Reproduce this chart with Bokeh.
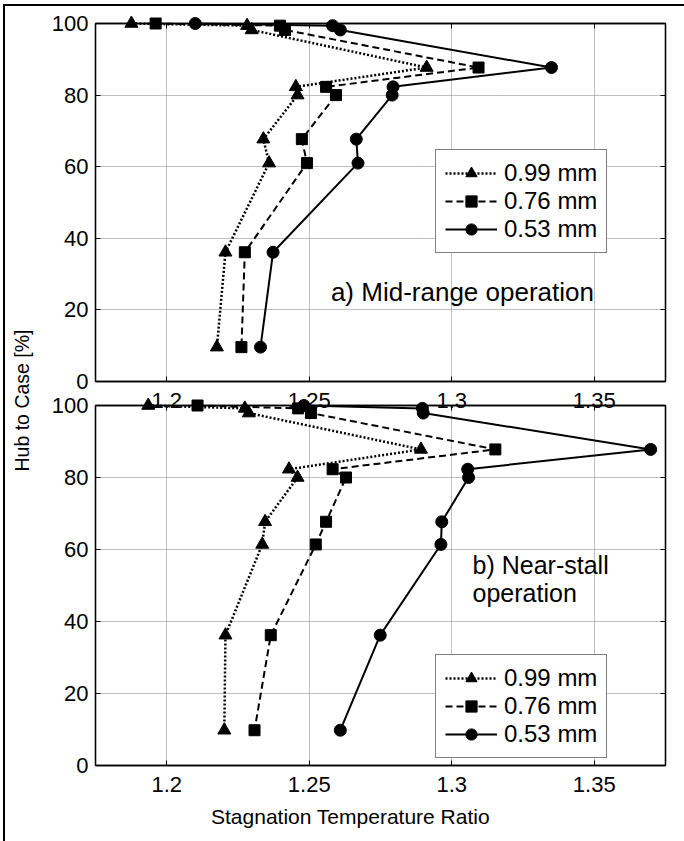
from bokeh.plotting import figure
from bokeh.layouts import column
from bokeh.models import (FixedTicker, LinearAxis, Range1d, Legend, LegendItem, Label,
                          CustomJSTickFormatter)
from bokeh.embed import file_html
from bokeh.resources import INLINE

FONT = "Liberation Sans"

# ---------------- data ----------------
series_names = ["0.99 mm", "0.76 mm", "0.53 mm"]

# a) Mid-range operation
y_mid = [100, 99.4, 98.2, 87.7, 82.3, 80.0, 67.7, 61.0, 36.1, 9.6]
x_mid_099 = [1.1876, 1.2282, 1.2298, 1.2912, 1.2453, 1.2459, 1.2339, 1.2359, 1.2206, 1.2176]
x_mid_076 = [1.1961, 1.2397, 1.2415, 1.3094, 1.2559, 1.2594, 1.2474, 1.2492, 1.2274, 1.2262]
x_mid_053 = [1.2100, 1.2582, 1.2609, 1.3350, 1.2794, 1.2791, 1.2665, 1.2671, 1.2373, 1.2329]

# b) Near-stall operation
y_stall = [100, 99.2, 97.9, 87.8, 82.3, 80.0, 67.7, 61.4, 36.2, 9.8]
x_stall_099 = [1.1935, 1.2274, 1.2288, 1.2892, 1.2429, 1.2459, 1.2345, 1.2335, 1.2206, 1.2202]
x_stall_076 = [1.2108, 1.2461, 1.2506, 1.3153, 1.2582, 1.2629, 1.2559, 1.2523, 1.2365, 1.2308]
x_stall_053 = [1.2481, 1.2897, 1.2900, 1.3698, 1.3056, 1.3059, 1.2965, 1.2962, 1.2749, 1.2609]

x_ticks = [1.2, 1.25, 1.3, 1.35]
y_ticks = [0, 20, 40, 60, 80, 100]
x_limits = (1.175, 1.375)
y_limits = (0, 100)

x_title = "Stagnation Temperature Ratio"
y_title = "Hub to Case [%]"
label_a = "a) Mid-range operation"
label_b = "b)  Near-stall\noperation"

# ---------------- styling / layout ----------------
W = 679
PAD = 10  # extra px around the data frame so markers on the edge are not clipped
styles = [
    dict(marker="triangle", size=13, line_dash="2 2", line_width=2.5),
    dict(marker="square", size=11, line_dash="7 4", line_width=2),
    dict(marker="circle", size=12, line_dash="solid", line_width=2),
]
fmt = CustomJSTickFormatter(code="return String(tick)")


def hidden_axis(ticks):
    return LinearAxis(ticker=FixedTicker(ticks=ticks),
                      formatter=CustomJSTickFormatter(code="return ''"),
                      major_label_text_font_size="1px",
                      major_tick_in=5, major_tick_out=0, minor_tick_line_color=None,
                      axis_line_color="black", axis_line_width=1.3,
                      major_tick_line_color="black", major_label_standoff=0)


def bare_figure(width, height, y_range, min_top, min_bottom, min_right=19, **kw):
    p = figure(width=width, height=height, x_range=Range1d(*x_limits), y_range=y_range,
               output_backend="svg", toolbar_location=None, x_axis_location=None,
               y_axis_location=None, min_border_left=90, min_border_right=min_right,
               min_border_top=min_top, min_border_bottom=min_bottom, **kw)
    p.background_fill_color = None
    p.border_fill_color = None
    p.outline_line_color = None
    p.xgrid.visible = False
    p.ygrid.visible = False
    return p


def axes_panel(height, min_top, min_bottom, opaque, **kw):
    p = bare_figure(W, height, Range1d(*y_limits), min_top, min_bottom, **kw)
    if opaque:
        p.background_fill_color = "white"
        p.border_fill_color = "white"
    p.outline_line_color = "black"
    p.outline_line_width = 1.3
    yax = LinearAxis(ticker=FixedTicker(ticks=y_ticks), major_tick_in=5, major_tick_out=0,
                     minor_tick_line_color=None, axis_line_color="black", axis_line_width=1.3,
                     major_label_text_font=FONT, major_label_text_font_size="22px",
                     major_label_text_color="black", major_label_standoff=7)
    p.add_layout(yax, "left")
    p.add_layout(hidden_axis(y_ticks), "right")
    p.add_layout(hidden_axis(x_ticks), "above")
    xax = LinearAxis(ticker=FixedTicker(ticks=x_ticks), formatter=fmt, major_tick_in=5,
                     major_tick_out=0, minor_tick_line_color=None, axis_line_color="black",
                     axis_line_width=1.3, major_label_text_font=FONT,
                     major_label_text_font_size="22px", major_label_text_color="black",
                     major_label_standoff=11)
    p.add_layout(xax, "below")
    p.xgrid.visible = True
    p.ygrid.visible = True
    p.xgrid.ticker = FixedTicker(ticks=x_ticks)
    p.ygrid.ticker = FixedTicker(ticks=y_ticks)
    for g in (p.xgrid, p.ygrid):
        g.grid_line_color = "#808080"
        g.grid_line_dash = "1 1"
        g.grid_line_width = 1
    return p


def data_panel(frame_h, y, xs, legend_bottom, **kw):
    pad = PAD * (y_limits[1] - y_limits[0]) / frame_h
    yr = Range1d(y_limits[0] - pad, y_limits[1] + pad)
    p = bare_figure(W, frame_h + 2 * PAD, yr, 0, 0, **kw)
    items = []
    for name, x, st in zip(series_names, xs, styles):
        ln = p.line(x, y, line_color="black", line_width=st["line_width"], line_dash=st["line_dash"])
        sc = p.scatter(x, y, marker=st["marker"], size=st["size"], fill_color="black",
                       line_color="black")
        items.append(LegendItem(label=name, renderers=[ln, sc]))
    leg = Legend(items=items, location=(340, legend_bottom + PAD), margin=0, padding=9, spacing=0,
                 glyph_width=52, glyph_height=28, label_height=28, label_standoff=7,
                 label_text_font=FONT, label_text_font_size="24px", label_text_color="black",
                 border_line_color="black", border_line_width=1.3, background_fill_color="white",
                 background_fill_alpha=1.0)
    p.add_layout(leg, "center")
    return p


# page layout (content origin at page y=6):
# top axes canvas 6..476 (frame 23..381), top data canvas 13..391
p_top_axes = axes_panel(470, min_top=17, min_bottom=95, opaque=True)
p_top_data = data_panel(358, y_mid, [x_mid_099, x_mid_076, x_mid_053], 127.7,
                        margin=(-463, 0, 0, 0))
p_top_data.add_layout(Label(x=1.2576, y=25.1, text=label_a, text_font=FONT,
                            text_font_size="26px", text_baseline="middle", text_align="left",
                            text_color="black"))

# carrier of the shared y-axis title, canvas 330..470
p_mid = bare_figure(W, 140, Range1d(*y_limits), 0, 0, margin=(-61, 0, 0, 0))
p_mid.add_layout(LinearAxis(ticker=FixedTicker(ticks=[]), axis_line_color=None,
                            major_tick_line_color=None, minor_tick_line_color=None,
                            major_label_standoff=0, axis_label=y_title, axis_label_text_font=FONT,
                            axis_label_text_font_size="19.5px",
                            axis_label_text_font_style="normal", axis_label_text_color="black",
                            axis_label_standoff=63), "left")

# bottom axes canvas 390..841 (frame 405..765), bottom data canvas 395..775
p_bot_axes = axes_panel(451, min_top=15, min_bottom=76, opaque=False, margin=(-80, 0, 0, 0))
p_bot_data = data_panel(360, y_stall, [x_stall_099, x_stall_076, x_stall_053], 6.7,
                        margin=(-446, 0, 0, 0))
p_bot_data.add_layout(Label(x=1.3073, y=59.5, text=label_b, text_font=FONT,
                            text_font_size="25px", text_baseline="top", text_align="left",
                            text_color="black", text_line_height=1.0))

# carrier of the x-axis title (centred like the original), canvas 790..841
p_xt = bare_figure(619, 51, Range1d(*y_limits), 0, 50, min_right=5, margin=(15, 0, 0, 0))
p_xt.add_layout(LinearAxis(ticker=FixedTicker(ticks=[]), axis_line_color=None,
                           major_tick_line_color=None, minor_tick_line_color=None,
                           major_label_standoff=0, axis_label=x_title, axis_label_text_font=FONT,
                           axis_label_text_font_size="21px",
                           axis_label_text_font_style="normal", axis_label_text_color="black",
                           axis_label_standoff=13), "below")

page = column(p_top_axes, p_top_data, p_mid, p_bot_axes, p_bot_data, p_xt, margin=(4, 0, 0, 3),
              styles={"border-top": "2px solid black", "border-left": "2px solid black"})

open("out.html", "w").write(file_html(page, INLINE))
